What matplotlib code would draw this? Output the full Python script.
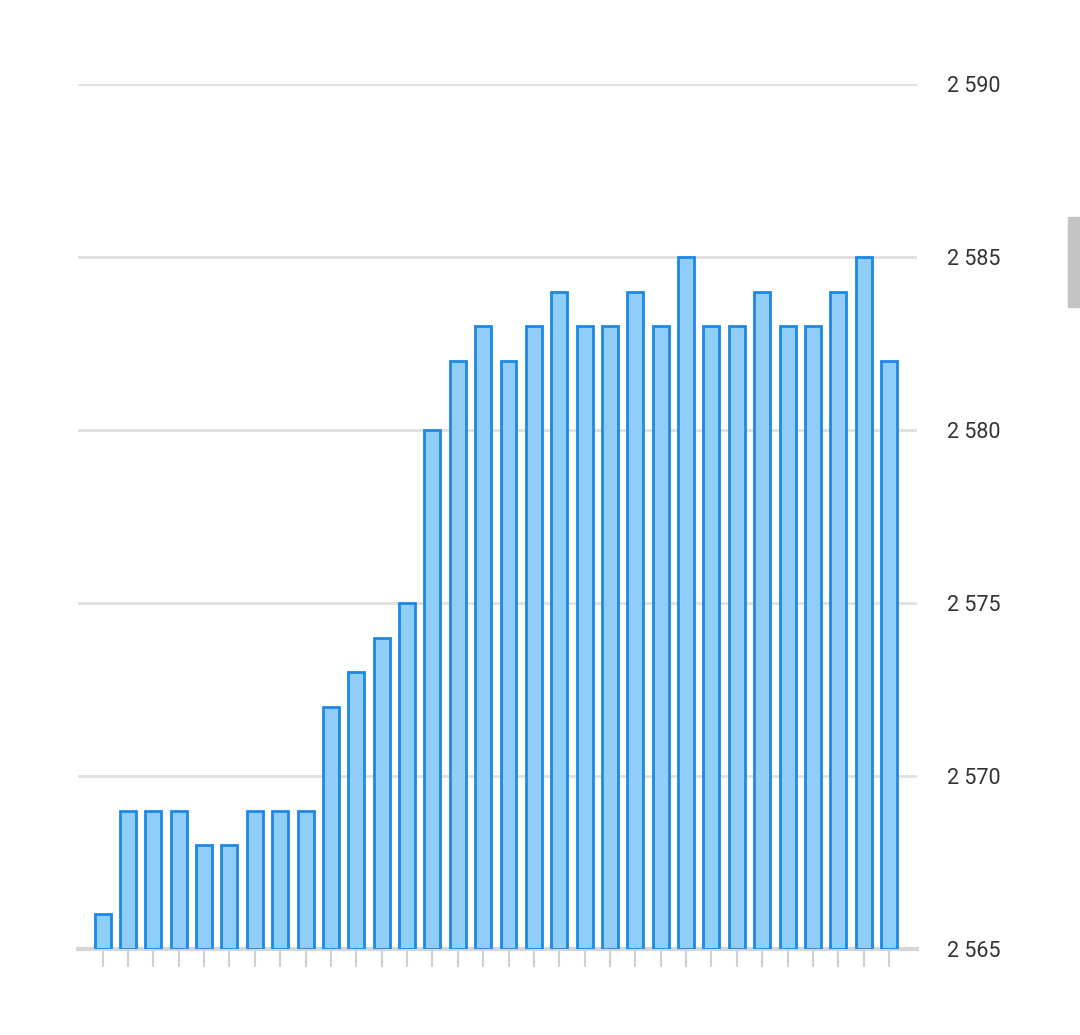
import matplotlib
matplotlib.use("Agg")
import matplotlib.pyplot as plt
from matplotlib.patches import Rectangle

values = [2566, 2569, 2569, 2569, 2568, 2568, 2569, 2569, 2569, 2572, 2573, 2574, 2575,
          2580, 2582, 2583, 2582, 2583, 2584, 2583, 2583, 2584, 2583, 2585, 2583, 2583,
          2584, 2583, 2583, 2584, 2585, 2582]
yticks = [2565, 2570, 2575, 2580, 2585, 2590]
ylabels = ["2 565", "2 570", "2 575", "2 580", "2 585", "2 590"]

plt.rcParams['font.family'] = ['Roboto', 'DejaVu Sans']
fig = plt.figure(figsize=(10.8, 10.35), dpi=100)
ax = fig.add_axes([0.072, 0.0831, 0.777, 0.8357])
x = list(range(len(values)))
ax.bar(x, [v - 2565 for v in values], bottom=2565, width=0.63,
       color='#90CDF9', edgecolor='#1E88E5', linewidth=2, zorder=3)
ax.set_xlim(-0.98, 32.1)
ax.set_ylim(2565, 2590)
ax.set_yticks(yticks)
ax.set_yticklabels(ylabels, fontsize=15.5, color='#333333')
ax.yaxis.tick_right()
ax.tick_params(axis='y', length=0, pad=22)
ax.grid(axis='y', color='#e0e0e0', linewidth=2, zorder=0)
for s in ['top', 'left', 'right']:
    ax.spines[s].set_visible(False)
ax.spines['bottom'].set_color('#d6d6d6')
ax.spines['bottom'].set_linewidth(3)
ax.set_xticks(x)
ax.set_xticklabels([])
ax.tick_params(axis='x', length=13, width=1.5, color='#d0d0d0', pad=0)
fig.patches.append(Rectangle((1068/1080, 1 - 307/1035), 12/1080, 90/1035,
                             transform=fig.transFigure, color='#c4c4c4'))
fig.savefig('out.png', dpi=100, facecolor='white')
